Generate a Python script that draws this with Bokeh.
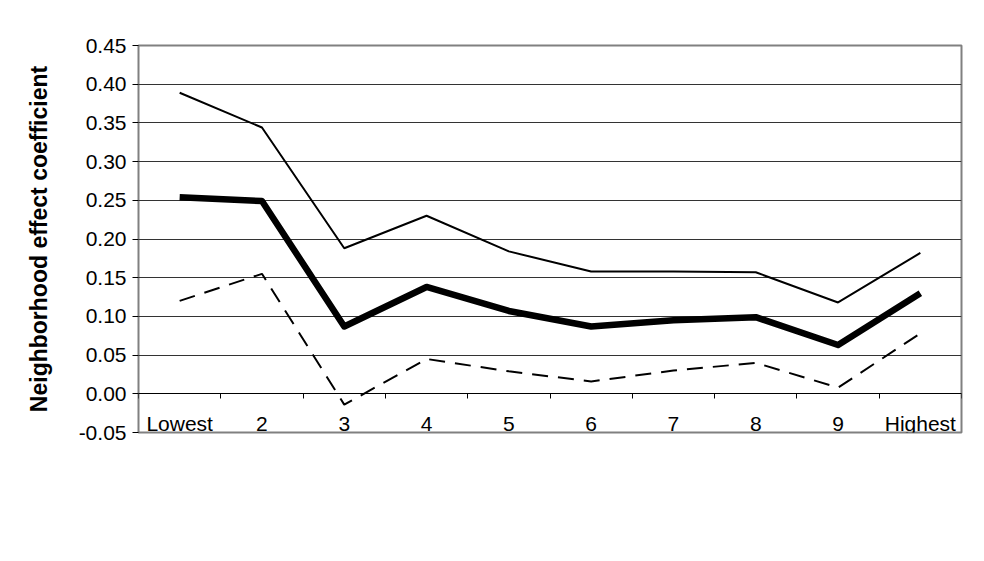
import numpy as np
from bokeh.plotting import figure
from bokeh.models import (Range1d, LinearAxis, FixedTicker, NumeralTickFormatter,
                          Legend, LegendItem, BoxAnnotation, ColumnDataSource)
from bokeh.embed import file_html
from bokeh.resources import INLINE

# Neighborhood effect by social class, with 95% confidence bounds
categories = ["Lowest", "2", "3", "4", "5", "6", "7", "8", "9", "Highest"]
coefficient = [0.254, 0.249, 0.087, 0.138, 0.107, 0.087, 0.095, 0.099, 0.063, 0.130]
upper_bound = [0.389, 0.344, 0.188, 0.230, 0.184, 0.158, 0.158, 0.157, 0.118, 0.182]
lower_bound = [0.120, 0.155, -0.014, 0.045, 0.029, 0.016, 0.030, 0.040, 0.008, 0.078]
y_ticks = [-0.05, 0.00, 0.05, 0.10, 0.15, 0.20, 0.25, 0.30, 0.35, 0.40, 0.45]

FONT = "Liberation Sans"

# each category occupies one unit; points sit at the middle of their slot
n = len(categories)
centers = [i + 0.5 for i in range(n)]
source = ColumnDataSource(dict(x=centers, coef=coefficient, up=upper_bound, lo=lower_bound))

p = figure(width=984, height=561, output_backend="svg", toolbar_location=None,
           x_range=Range1d(0, n), y_range=Range1d(y_ticks[0], y_ticks[-1]),
           x_axis_location=None, y_axis_location="left",
           min_border_left=138, min_border_right=23, min_border_top=45, min_border_bottom=129,
           background_fill_color="white", border_fill_color="white")

# plot-area frame and horizontal gridlines
p.outline_line_color = "#808080"
p.outline_line_width = 2
p.xgrid.visible = False
p.ygrid.ticker = FixedTicker(ticks=y_ticks)
p.ygrid.grid_line_color = "#333333"
p.ygrid.grid_line_width = 1

# value axis
yax = p.yaxis[0]
yax.ticker = FixedTicker(ticks=y_ticks)
yax.formatter = NumeralTickFormatter(format="0.00")
yax.axis_line_color = None
yax.major_tick_in = 0
yax.major_tick_out = 6
yax.major_tick_line_color = "black"
yax.minor_tick_line_color = None
yax.major_label_standoff = 6
yax.major_label_text_font = FONT
yax.major_label_text_font_size = "21px"
yax.major_label_text_color = "black"
yax.axis_label = "Neighborhood effect coefficient"
yax.axis_label_text_font = FONT
yax.axis_label_text_font_style = "bold"
yax.axis_label_text_font_size = "23px"
yax.axis_label_text_color = "black"
yax.axis_label_standoff = 24

# category axis crossing at zero: boundary tick marks
edge_axis = LinearAxis(fixed_location=0,
                       ticker=FixedTicker(ticks=list(range(n + 1))),
                       axis_line_color="black", axis_line_width=1,
                       major_tick_in=0, major_tick_out=5, major_tick_line_color="black",
                       minor_tick_line_color=None, major_label_text_font_size="0px")
p.add_layout(edge_axis, "below")

# category names and axis title
cat_axis = LinearAxis(fixed_location=0, ticker=FixedTicker(ticks=centers),
                      major_label_overrides={c: name for c, name in zip(centers, categories)},
                      axis_line_color=None,
                      major_tick_line_color=None, minor_tick_line_color=None,
                      major_tick_in=0, major_tick_out=0,
                      major_label_standoff=18,
                      major_label_text_font=FONT, major_label_text_font_size="21px",
                      major_label_text_color="black",
                      axis_label="Social class", axis_label_standoff=18,
                      axis_label_text_font=FONT, axis_label_text_font_style="bold",
                      axis_label_text_font_size="23.5px", axis_label_text_color="black")
p.add_layout(cat_axis, "below")

r_coef = p.line("x", "coef", source=source, line_color="black", line_width=6.5, line_join="round")
r_up = p.line("x", "up", source=source, line_color="black", line_width=2)
r_lo = p.line("x", "lo", source=source, line_color="black", line_width=2, line_dash="16 10")

legend = Legend(items=[LegendItem(label="Coefficient", renderers=[r_coef]),
                       LegendItem(label="95% upper bound", renderers=[r_up]),
                       LegendItem(label="95% lower bound", renderers=[r_lo])],
                location=(58, -117), orientation="horizontal",
                glyph_width=76, glyph_height=26, label_height=26, label_standoff=5,
                spacing=11, padding=4, margin=0,
                label_text_font=FONT, label_text_font_size="21px", label_text_color="black",
                border_line_color="black", border_line_width=1,
                background_fill_color="white", background_fill_alpha=1)
p.add_layout(legend)

# outer chart border
p.add_layout(BoxAnnotation(left=7, right=982, top=5, bottom=556,
                           left_units="canvas", right_units="canvas",
                           top_units="canvas", bottom_units="canvas",
                           fill_alpha=0, line_color="black", line_width=1.5))

open("out.html", "w").write(file_html(p, INLINE))
